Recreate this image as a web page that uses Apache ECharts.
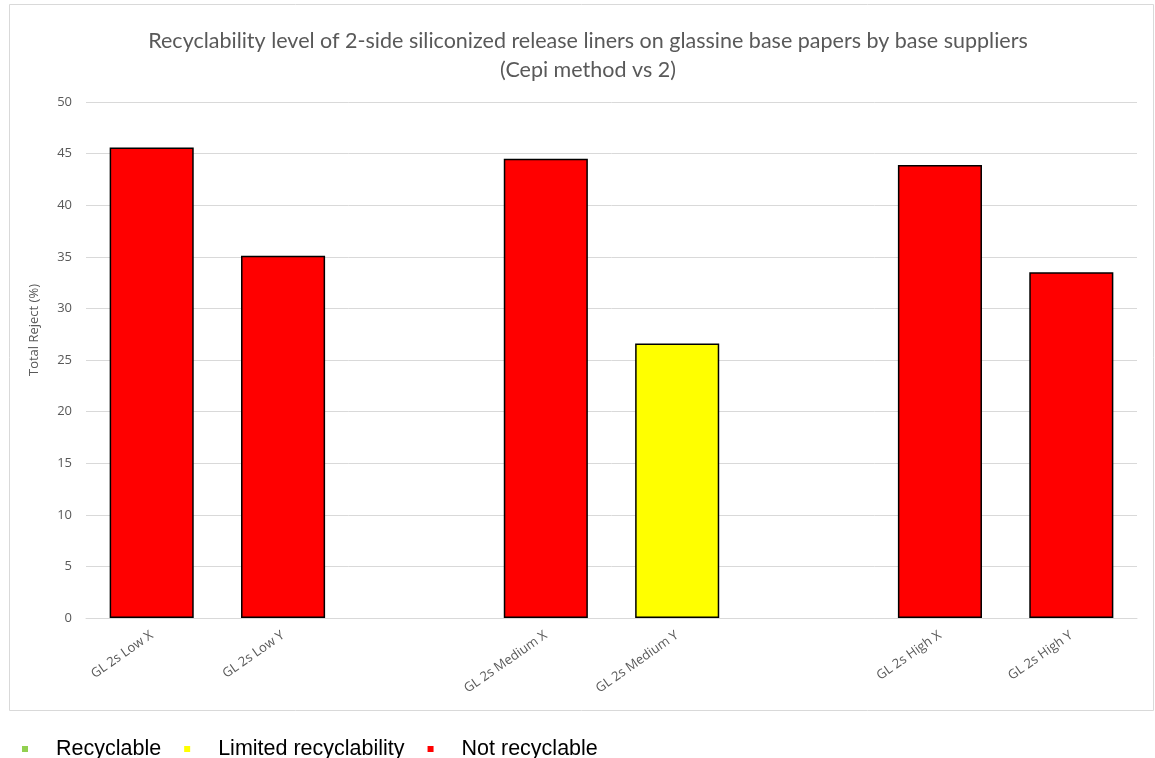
<!DOCTYPE html>
<html>
<head>
<meta charset="utf-8">
<script src="https://cdn.jsdelivr.net/npm/echarts@6/dist/echarts.min.js"></script>
<style>
  html, body { margin: 0; padding: 0; background: #ffffff; }
  #chart { width: 1155px; height: 758px; }
</style>
</head>
<body>
<div id="chart"></div>
<script>
// Categories (empty slots separate the Low / Medium / High groups)
const categories = ['GL 2s Low X', 'GL 2s Low Y', '', 'GL 2s Medium X', 'GL 2s Medium Y', '', 'GL 2s High X', 'GL 2s High Y'];

// Total reject (%) per category, split by recyclability class
const recyclable = [null, null, null, null, null, null, null, null];
const limitedRecyclability = [null, null, null, null, 26.6, null, null, null];
const notRecyclable = [45.6, 35.1, null, 44.5, null, null, 43.9, 33.5];

const yTicks = { min: 0, max: 50, interval: 5 };

const chart = echarts.init(document.getElementById('chart'), null, { renderer: 'canvas' });

const textGrey = '#595959';
const barBorder = { borderColor: '#000000', borderWidth: 1.5 };

chart.setOption({
  animation: false,
  backgroundColor: '#ffffff',
  title: {
    text: 'Recyclability level of 2-side siliconized release liners on glassine base papers by base suppliers\n(Cepi method vs 2)',
    left: 583,
    textAlign: 'center',
    top: 22,
    textStyle: {
      fontFamily: 'Lato',
      fontWeight: 'normal',
      fontSize: 21.5,
      color: textGrey,
      lineHeight: 29
    }
  },
  graphic: [{
    type: 'rect',
    shape: { x: 9.5, y: 4.5, width: 1144, height: 706 },
    style: { fill: 'none', stroke: '#d9d9d9', lineWidth: 1 },
    silent: true,
    z: -1
  }],
  legend: {
    left: 17,
    top: 733,
    icon: 'rect',
    itemWidth: 6,
    itemHeight: 6,
    itemGap: 23,
    data: ['Recyclable', 'Limited recyclability', 'Not recyclable'],
    itemStyle: { borderWidth: 0 },
    textStyle: {
      fontFamily: 'Liberation Sans',
      fontSize: 21.5,
      color: '#000000',
      padding: [0, 0, 0, 23]
    }
  },
  grid: { left: 86, right: 18, top: 102, bottom: 140, containLabel: false },
  xAxis: {
    type: 'category',
    data: categories,
    axisLine: { show: true, lineStyle: { color: '#d9d9d9', width: 1 } },
    axisTick: { show: false },
    axisLabel: {
      interval: 0,
      rotate: 35,
      margin: 16,
      fontFamily: 'Open Sans',
      fontSize: 13,
      color: textGrey
    }
  },
  yAxis: {
    type: 'value',
    min: yTicks.min,
    max: yTicks.max,
    interval: yTicks.interval,
    name: 'Total Reject (%)',
    nameLocation: 'middle',
    nameGap: 45,
    nameTextStyle: { fontFamily: 'Open Sans', fontSize: 13, color: textGrey, padding: [0, 0, 0, 60] },
    axisLine: { show: false },
    axisTick: { show: false },
    axisLabel: { fontFamily: 'Open Sans', fontSize: 13, color: textGrey, margin: 14 },
    splitLine: { lineStyle: { color: '#d9d9d9', width: 1 } }
  },
  series: [
    {
      name: 'Recyclable', type: 'bar', stack: 'total', barWidth: '64%',
      data: recyclable,
      itemStyle: Object.assign({ color: '#92d050' }, barBorder)
    },
    {
      name: 'Limited recyclability', type: 'bar', stack: 'total', barWidth: '64%',
      data: limitedRecyclability,
      itemStyle: Object.assign({ color: '#ffff00' }, barBorder)
    },
    {
      name: 'Not recyclable', type: 'bar', stack: 'total', barWidth: '64%',
      data: notRecyclable,
      itemStyle: Object.assign({ color: '#ff0000' }, barBorder)
    }
  ]
});
</script>
</body>
</html>
